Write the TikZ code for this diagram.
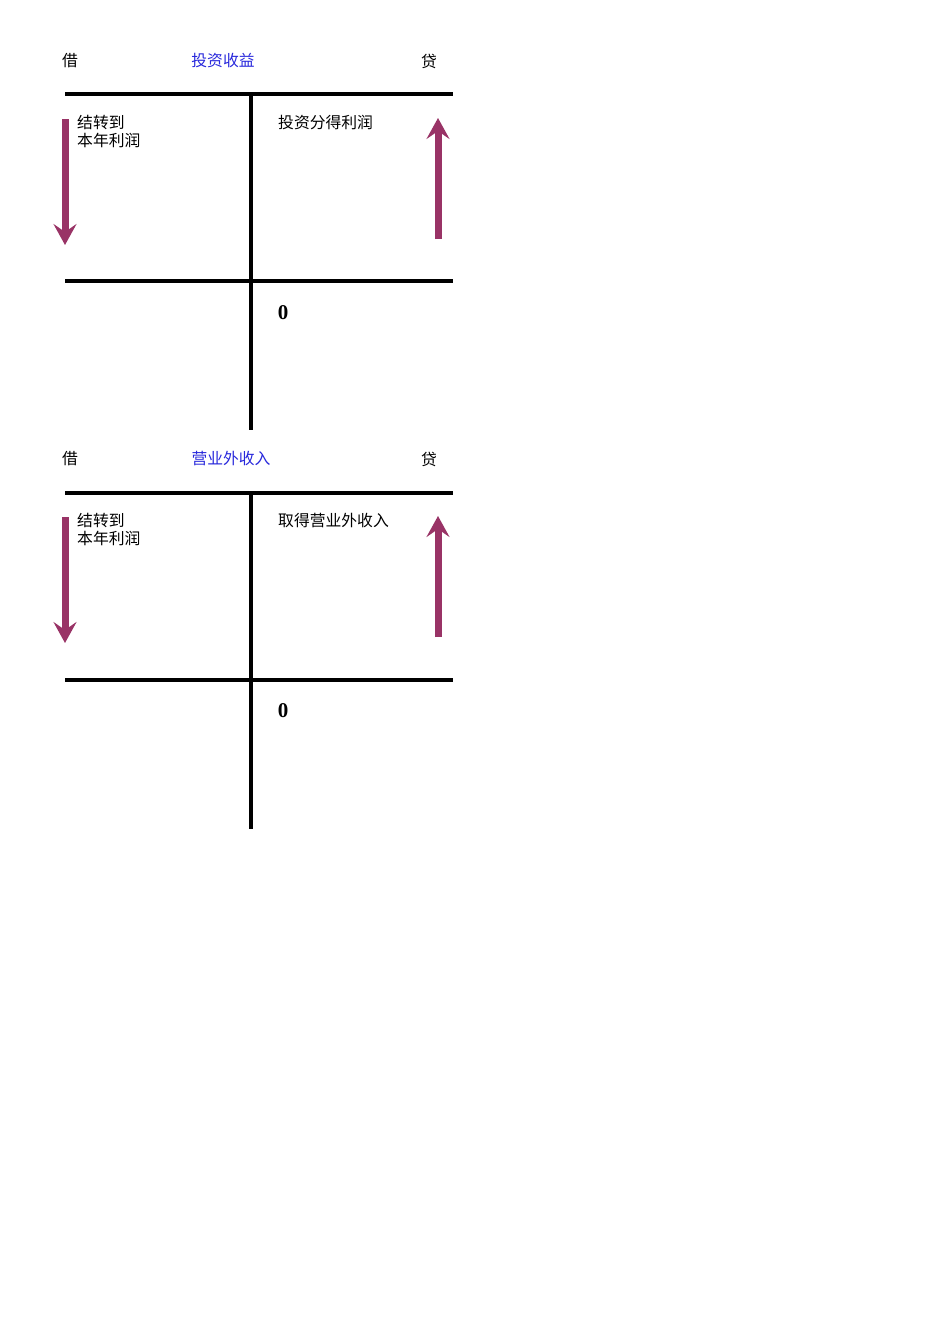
\documentclass[tikz,border=0pt]{standalone}
\usepackage{fontspec}
\setmainfont{Liberation Serif}
\newfontfamily\cjk{Noto Sans CJK SC}
\usetikzlibrary{arrows.meta}
\definecolor{arrowc}{RGB}{153,51,102}
\definecolor{titleblue}{RGB}{40,40,220}
\tikzset{
  tline/.style={line width=4.8pt},
  flowarrow/.style={arrowc, line width=7pt, -{Stealth[length=21pt,width=23pt,inset=8pt]}},
  lbl/.style={font=\cjk\fontsize{15.8}{18}\selectfont, inner sep=0pt},
  title/.style={lbl, text=titleblue},
  zero/.style={font=\bfseries\fontsize{21}{24}\selectfont, inner sep=0pt}
}
\begin{document}
\begin{tikzpicture}[x=1pt,y=-1pt]
\useasboundingbox[fill=white] (0,0) rectangle (950,1344);
% ---------- account 1 ----------
\node[lbl] (jie1) at (70,61) {借};
\node[title] (t1) at (223,61) {投资收益};
\node[lbl] (dai1) at (429,61) {贷};
\coordinate (a1L) at (65,94);
\coordinate (a1R) at (453,94);
\coordinate (a1T) at (251,94);
\coordinate (a1B) at (251,430);
\coordinate (b1L) at (65,281);
\coordinate (b1R) at (453,281);
\draw[tline] (a1L) -- (a1R);
\draw[tline] (a1T) -- (a1B);
\draw[tline] (b1L) -- (b1R);
\node[lbl, anchor=north west, align=left] (d1) at (77,115) {结转到\\本年利润};
\node[lbl, anchor=north west] (c1) at (278,115) {投资分得利润};
\node[zero] (z1) at (283,313) {0};
\coordinate (la1s) at (65,119);
\coordinate (la1e) at (65,245);
\draw[flowarrow] (la1s) -- (la1e);
\coordinate (ra1s) at (438,239);
\coordinate (ra1e) at (438,118);
\draw[flowarrow] (ra1s) -- (ra1e);
% ---------- account 2 ----------
\node[lbl] (jie2) at (70,459) {借};
\node[title] (t2) at (231,459) {营业外收入};
\node[lbl] (dai2) at (429,459) {贷};
\coordinate (a2L) at (65,493);
\coordinate (a2R) at (453,493);
\coordinate (a2T) at (251,493);
\coordinate (a2B) at (251,829);
\coordinate (b2L) at (65,680);
\coordinate (b2R) at (453,680);
\draw[tline] (a2L) -- (a2R);
\draw[tline] (a2T) -- (a2B);
\draw[tline] (b2L) -- (b2R);
\node[lbl, anchor=north west, align=left] (d2) at (77,513) {结转到\\本年利润};
\node[lbl, anchor=north west] (c2) at (278,513) {取得营业外收入};
\node[zero] (z2) at (283,711) {0};
\coordinate (la2s) at (65,517);
\coordinate (la2e) at (65,643);
\draw[flowarrow] (la2s) -- (la2e);
\coordinate (ra2s) at (438,637);
\coordinate (ra2e) at (438,516);
\draw[flowarrow] (ra2s) -- (ra2e);
\end{tikzpicture}
\end{document}
